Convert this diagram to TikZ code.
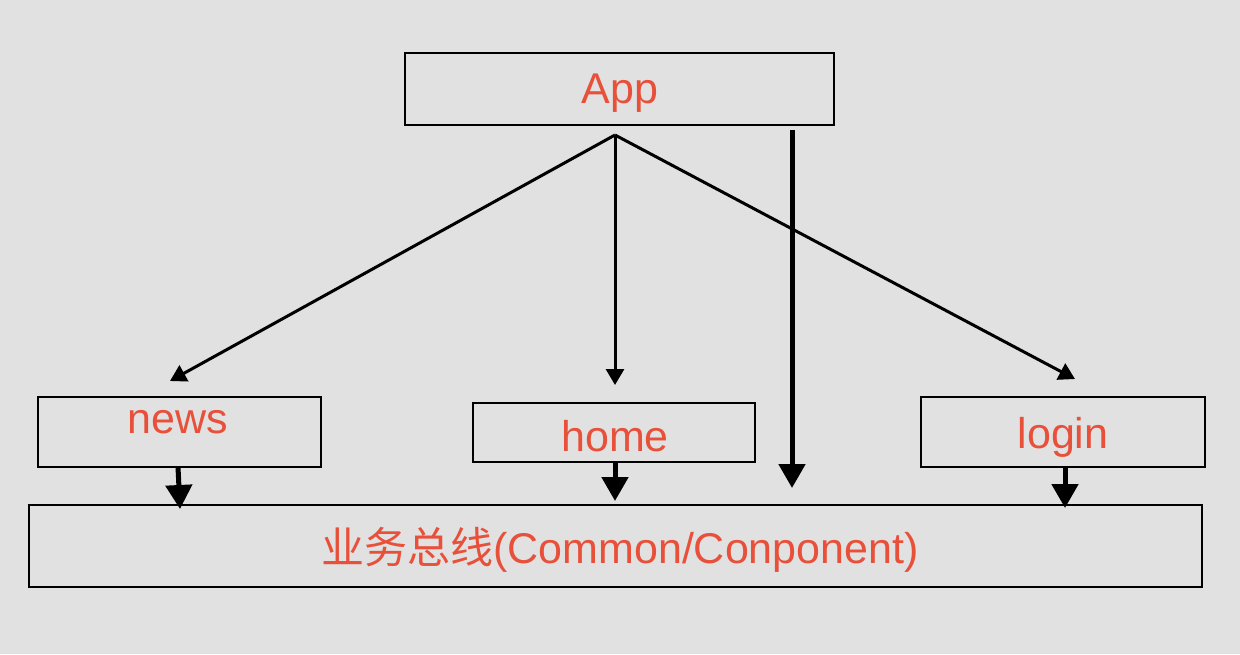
\documentclass[tikz,border=0pt]{standalone}
\usepackage{fontspec}
\setmainfont{Liberation Sans}
\newfontfamily\cjk{Noto Sans CJK SC}
\usetikzlibrary{arrows.meta}
\definecolor{bg}{HTML}{E1E1E1}
\definecolor{txt}{HTML}{E8503A}
\begin{document}
\begin{tikzpicture}[x=1pt,y=-1pt,
  box/.style={draw=black,line width=2.8pt,inner sep=0pt},
  lbl/.style={text=txt,font=\fontsize{43}{48}\selectfont,inner sep=0pt},
  thin/.style={line width=3pt,-{Triangle[length=16pt,width=18pt]}},
  fat/.style={line width=5pt,-{Triangle[length=24pt,width=26pt]}}]
\fill[bg] (0,0) rectangle (1240,654);
\useasboundingbox (0,0) rectangle (1240,654);
\node[box,minimum width=429pt,minimum height=72pt] (app) at (619.5,89) {};
\node[box,minimum width=283pt,minimum height=70pt] (news) at (179.5,432) {};
\node[box,minimum width=282pt,minimum height=59pt] (home) at (614,432.5) {};
\node[box,minimum width=284pt,minimum height=70pt] (login) at (1063,432) {};
\node[box,minimum width=1173pt,minimum height=82pt] (bus) at (615.5,546) {};
\node[lbl] (tapp) at (620,93) {App};
\node[lbl] (tnews) at (178,422) {news};
\node[lbl] (thome) at (615,436) {home};
\node[lbl] (tlogin) at (1063,437) {login};
\node[lbl] (tbus) at (620,550) {{\cjk 业务总线}(Common/Conponent)};
\coordinate (o) at (615,135);
\coordinate (n1) at (170,381);
\coordinate (h1) at (615,385);
\coordinate (l1) at (1075,379);
\draw[thin] (o) -- (n1);
\draw[thin] (o) -- (h1);
\draw[thin] (o) -- (l1);
\coordinate (f0) at (792,130);
\coordinate (f1) at (792,488);
\draw[fat] (f0) -- (f1);
\coordinate (na) at (178,467); \coordinate (nb) at (180,509);
\coordinate (ha) at (615,462); \coordinate (hb) at (615,501);
\coordinate (la) at (1065,467); \coordinate (lb) at (1065,508);
\draw[fat] (na) -- (nb);
\draw[fat] (ha) -- (hb);
\draw[fat] (la) -- (lb);
\end{tikzpicture}
\end{document}
